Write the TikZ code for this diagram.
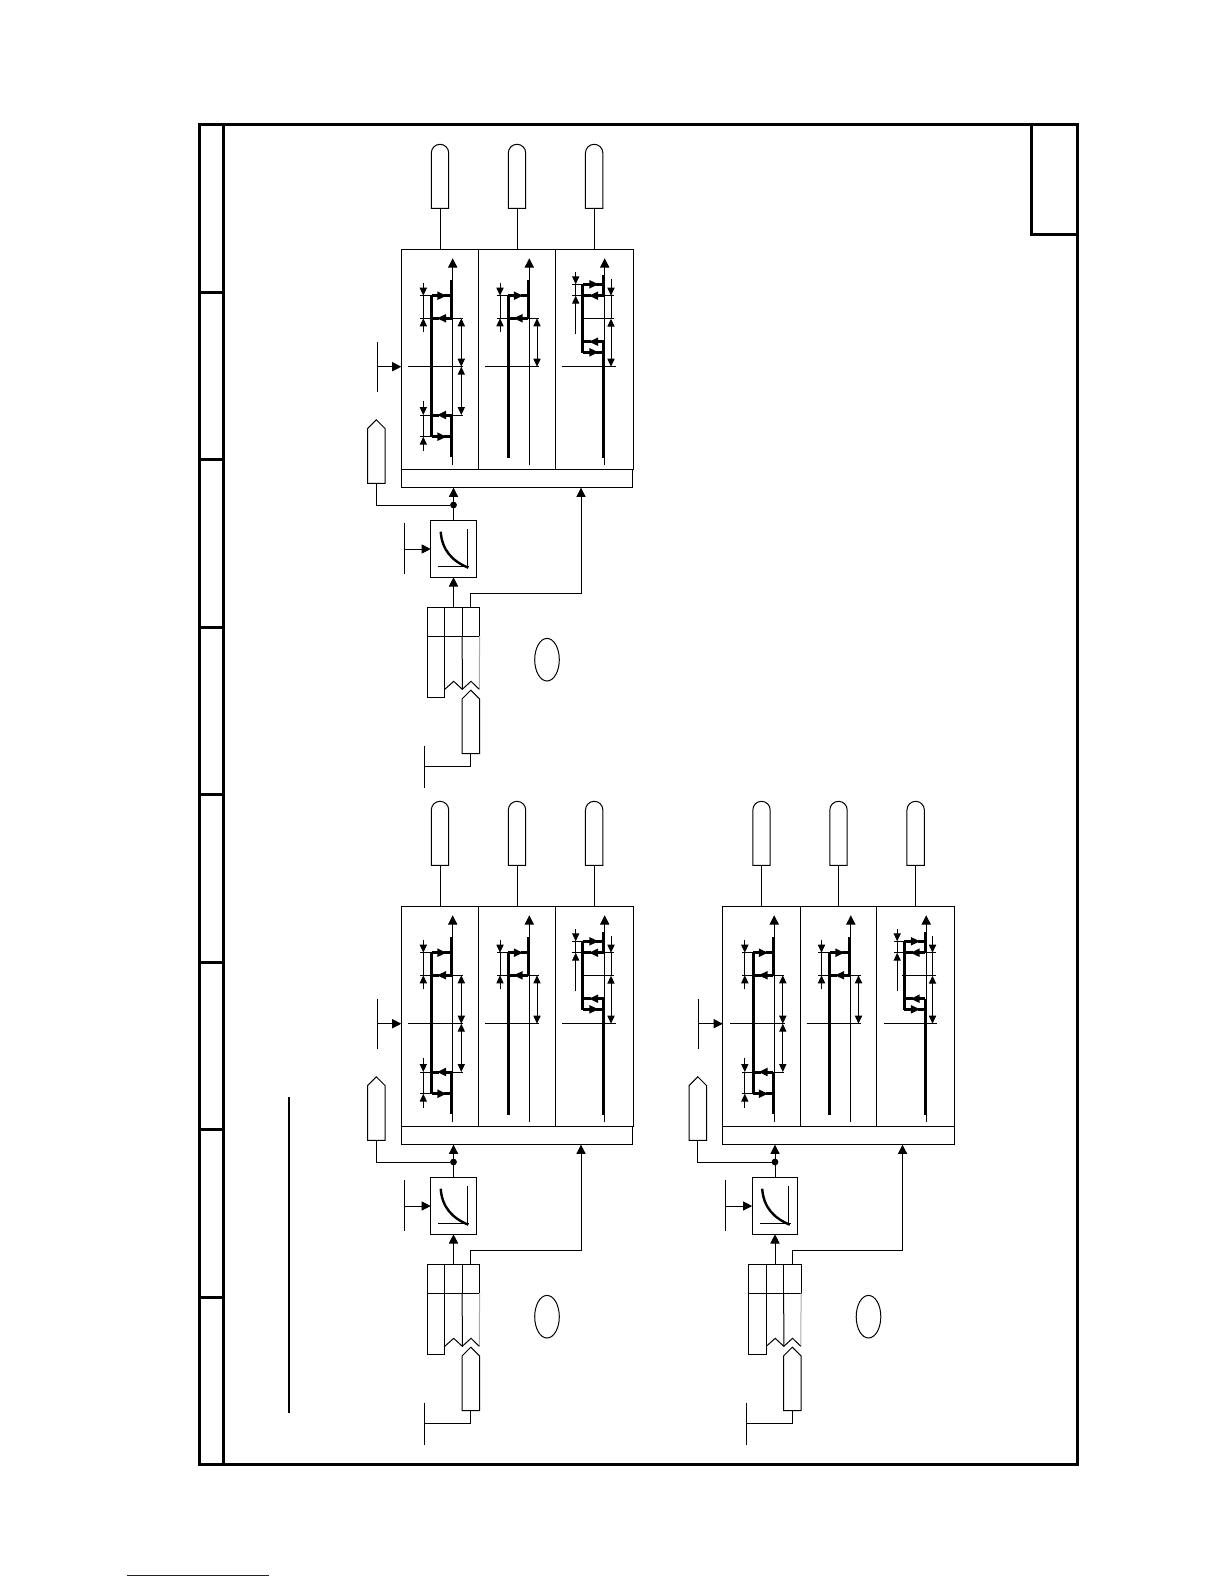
\documentclass[tikz,border=0pt]{standalone}
\usepackage{tikz}
\usepackage{xcolor}
\usetikzlibrary{arrows.meta,positioning,shapes.geometric,shapes.misc,shapes.symbols}
\definecolor{hvblue}{RGB}{20,20,160}
\definecolor{hvgray}{RGB}{170,170,170}
\tikzset{
  hvbigtip/.tip={Triangle[length=4.6pt,width=4.6pt]},
  hvdimtip/.tip={Triangle[length=4pt,width=3.6pt]},
  hvflowtip/.tip={Triangle[length=4.6pt,width=4pt]},
  hvwire/.style={draw=black, line width=.5pt},
  hvthick/.style={draw=black, line width=1.5pt},
  hvframe/.style={draw=black, line width=1.5pt},
  hvarr/.style={hvwire, -hvbigtip},
  hvdim/.style={hvwire, -hvdimtip},
  hvdimboth/.style={hvwire, hvdimtip-hvdimtip},
  hvflow/.style={hvthick, -hvflowtip},
  hvcell/.style={draw=black, line width=.5pt, inner sep=0pt, outer sep=0pt, minimum height=109.85pt},
  hvstrip/.style={draw=black, line width=.5pt, inner sep=0pt, outer sep=0pt, minimum width=115.85pt, minimum height=9.35pt},
  hvpill/.style={draw=black, line width=.5pt, fill=white, rounded rectangle, rounded rectangle west arc=none, rotate=90,
    inner sep=0pt, outer sep=0pt, minimum height=8.7pt, minimum width=32pt},
  hvtag/.style={draw=black, line width=.5pt, signal, signal to=north, signal from=nowhere, signal pointer angle=90,
    inner sep=0pt, outer sep=0pt, minimum width=8.7pt, minimum height=27.4pt},
  hvfilter/.style={draw=black, line width=.5pt, inner sep=0pt, outer sep=0pt, minimum width=22.8pt, minimum height=28.3pt},
  hvtab/.style={draw=black, line width=.5pt, inner sep=0pt, outer sep=0pt, minimum width=8.7pt, minimum height=14.35pt},
  hvdot/.style={circle, fill=black, inner sep=0pt, outer sep=0pt, minimum size=3.4pt},
  hvmark/.style={draw=black, line width=.5pt, ellipse, inner sep=0pt, outer sep=0pt, minimum width=12.3pt, minimum height=21.3pt},
  hvcontrol/.pic={
    % output block with three columns
    \node[hvcell, minimum width=38.7pt] (col1) at (440,359.15) {};
    \node[hvcell, minimum width=38.3pt, right=0pt of col1] (col2) {};
    \node[hvcell, minimum width=38.85pt, right=0pt of col2] (col3) {};
    \node[hvstrip, below=0pt of col2] (strip) {};
    \node[hvpill, above=20.5pt of col1.north, anchor=west] (pill1) {};
    \node[hvpill, above=20.5pt of col2.north, anchor=west] (pill2) {};
    \node[hvpill, above=20.5pt of col3.north, anchor=west] (pill3) {};
    \draw[hvwire] (col1.north) -- (pill1.west);
    \draw[hvwire] (col2.north) -- (pill2.west);
    \draw[hvwire] (col3.north) -- (pill3.west);
    % side input of the block
    \coordinate (barmain) at (377.3,366.7);
    \draw[hvwire] (377.3,342) -- (377.3,392.3);
    \draw[hvarr] (barmain) -- (barmain -| col1.west);
    % filter and the feeds below it
    \node[hvfilter] (filt) at (453.5,549) {};
    \node[hvdot] (junc) at (453.5,505) {};
    \node[hvtag, anchor=south] (tagfb) at (376.3,483.3) {};
    \draw[hvwire] (filt.north) -- (junc);
    \draw[hvarr] (junc) -- (junc |- strip.south);
    \draw[hvwire] (tagfb.south) |- (junc);
    \coordinate (barfilt) at (404.3,549);
    \draw[hvwire] (404.3,523.3) -- (404.3,574.3);
    \draw[hvarr] (barfilt) -- (filt.west);
    \draw[hvwire] (467.3,529.3) -- (467.3,568.3);
    \draw[hvwire] (438.3,566.7) -- (469.3,566.7);
    \draw[draw=black, line width=1.2pt] (440.7,531.7) .. controls (442,550) and (452,561) .. (468.3,567.7);
    % table with torn edge
    \node[hvtab] (tab2) at (453.5,621.65) {};
    \node[hvtab, left=0pt of tab2] (tab1) {};
    \node[hvtab, right=0pt of tab2] (tab3) {};
    \node[hvtab, minimum height=30.65pt, below=0pt of tab1] (tab4) {};
    \draw[hvwire] (tab2.south east) -- (462.3,689.3);
    \draw[draw=hvgray, line width=.5pt] (tab3.south east) -- (479.3,689.3);
    \draw[hvwire] (tab4.south east |- 0,689.3) -- (453.7,681.3) -- (462.3,689.3) -- (471,681.3) -- (479.3,689.3);
    \draw[hvarr] (tab2.north) -- (filt.south);
    \coordinate (ctlin) at (581,487.7);
    \draw[hvarr] (tab3.north) -- ++(0,-14) -| (ctlin);
    \node[hvtag, anchor=south] (tagtab) at (470.8,753.7) {};
    \coordinate (bartab) at (424.7,766.3);
    \draw[hvwire] (424.7,745.7) -- (424.7,787.7);
    \draw[hvwire] (tagtab.south) |- (bartab);
    \node[hvmark] (mark) at (547,659.7) {};
    % column 1
    \draw[hvarr] (452.7,465) -- (452.7,258.3);
    \draw[hvthick] (451.7,280) -- (451.7,318.3);
    \draw[hvthick] (451.7,415) -- (451.7,456.7);
    \draw[hvthick] (431.7,295) -- (431.7,437.4);
    \draw[hvflow] (431.7,295.7) -- (446.5,295.7);
    \draw[hvthick] (444,295.7) -- (451.7,295.7);
    \draw[hvflow] (451.7,318.3) -- (437,318.3);
    \draw[hvthick] (439,318.3) -- (431.7,318.3);
    \draw[hvflow] (451.7,415) -- (437,415);
    \draw[hvthick] (439,415) -- (431.7,415);
    \draw[hvflow] (431.7,436.7) -- (446.5,436.7);
    \draw[hvthick] (444,436.7) -- (451.7,436.7);
    \draw[hvwire] (420,295.7) -- (431.7,295.7);
    \draw[hvwire] (420,318.3) -- (462.7,318.3);
    \draw[hvwire] (420,415) -- (462.7,415);
    \draw[hvwire] (420,436.7) -- (431.7,436.7);
    \draw[hvwire] (408.3,366.7) -- (463.3,366.7);
    \draw[hvdim] (423.3,282.7) -- (423.3,295.7);
    \draw[hvwire] (423.3,295.7) -- (423.3,318.3);
    \draw[hvdim] (423.3,332.3) -- (423.3,318.3);
    \draw[hvdim] (423.3,400.7) -- (423.3,415);
    \draw[hvwire] (423.3,415) -- (423.3,436.7);
    \draw[hvdim] (423.3,450.7) -- (423.3,436.7);
    \draw[hvdimboth] (461.3,318.3) -- (461.3,366.7);
    \draw[hvdimboth] (461.3,366.7) -- (461.3,415);
    % column 2
    \draw[hvarr] (529.3,465) -- (529.3,258.3);
    \draw[hvthick] (528.3,280) -- (528.3,318.3);
    \draw[hvthick] (508,295) -- (508,457.7);
    \draw[hvflow] (508,295.7) -- (523,295.7);
    \draw[hvthick] (520.5,295.7) -- (528.3,295.7);
    \draw[hvflow] (528.3,318.3) -- (513.5,318.3);
    \draw[hvthick] (515.5,318.3) -- (508,318.3);
    \draw[hvwire] (496.7,295.7) -- (508,295.7);
    \draw[hvwire] (496.7,318.3) -- (539.3,318.3);
    \draw[hvwire] (485,366.7) -- (539.3,366.7);
    \draw[hvdim] (500,282.7) -- (500,295.7);
    \draw[hvwire] (500,295.7) -- (500,318.3);
    \draw[hvdim] (500,332.3) -- (500,318.3);
    \draw[hvdimboth] (537,318.3) -- (537,366.7);
    % column 3
    \draw[hvarr] (604.7,465) -- (604.7,258.3);
    \draw[hvthick] (603.7,275) -- (603.7,295.7);
    \draw[hvthick] (603.7,341.7) -- (603.7,457.7);
    \draw[hvthick] (582.7,283.6) -- (582.7,353);
    \draw[hvflow] (582.7,284.3) -- (598.5,284.3);
    \draw[hvthick] (596,284.3) -- (603.7,284.3);
    \draw[hvflow] (603.7,295.7) -- (589,295.7);
    \draw[hvthick] (591,295.7) -- (582.7,295.7);
    \draw[hvflow] (603.7,341.7) -- (589,341.7);
    \draw[hvthick] (591,341.7) -- (582.7,341.7);
    \draw[hvflow] (582.7,352.3) -- (598.5,352.3);
    \draw[hvthick] (596,352.3) -- (603.7,352.3);
    \draw[hvwire] (572.3,284.3) -- (582.7,284.3);
    \draw[hvwire] (572.3,295.7) -- (614.3,295.7);
    \draw[hvwire] (580.7,318.7) -- (614.3,318.7);
    \draw[hvwire] (562.3,366.7) -- (615.7,366.7);
    \draw[hvdim] (575.7,272.3) -- (575.7,284.3);
    \draw[hvwire] (575.7,284.3) -- (575.7,295.7);
    \draw[hvdim] (575.7,334.3) -- (575.7,295.7);
    \draw[hvdim] (611,279.3) -- (611,295.7);
    \draw[hvwire] (611,295.7) -- (611,318.7);
    \draw[hvdimboth] (611,318.7) -- (611,366.7);
  }
}

\begin{document}
\begin{tikzpicture}[x=.5pt, y=-.5pt]
  \useasboundingbox (0,0) rectangle (1224,1584);
  % sheet frame
  \node[hvframe, inner sep=0pt, outer sep=0pt, minimum width=438.85pt, minimum height=669.65pt] (sheet) at (638.15,794.35) {};
  \draw[hvframe, line width=1.2pt] (223.3,124.7) -- (223.3,1464);
  \foreach \tick in {292.3,459.8,627.3,794.8,962.3,1129.3,1297.3} {
    \draw[hvframe] (199.3,\tick) -- (223.3,\tick);
  }
  \node[hvframe, inner sep=0pt, outer sep=0pt, minimum width=22.65pt, minimum height=54.8pt, anchor=north east] (corner) at (sheet.north east) {};
  \draw[draw=black, line width=.9pt] (289,1097) -- (289,1413.3);
  \pic (hvta) at (0,0) {hvcontrol};
  \pic (hvtb) at (0,657) {hvcontrol};
  \pic (hvtc) at (321.5,657) {hvcontrol};
  \draw[draw=hvblue, line width=.5pt] (127,1575) -- (269,1575);
\end{tikzpicture}
\end{document}
